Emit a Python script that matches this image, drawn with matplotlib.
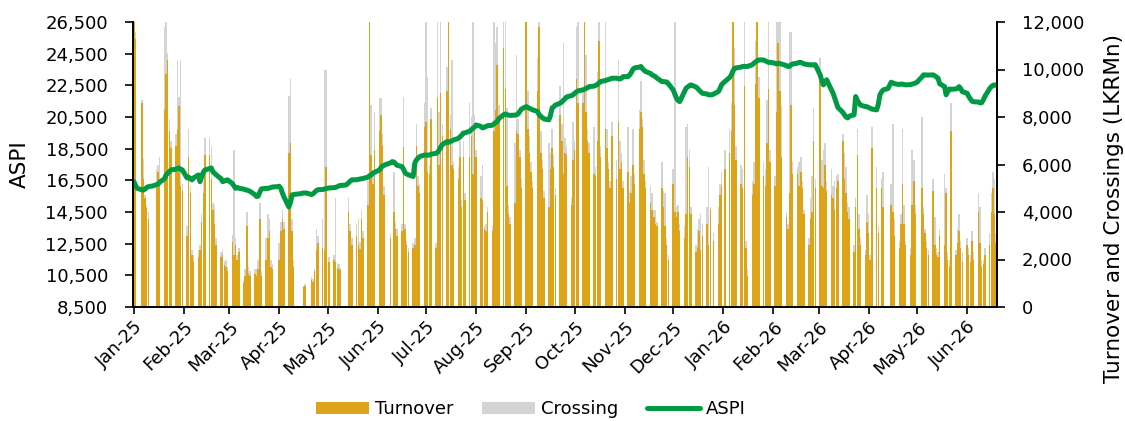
import pandas as pd
import matplotlib
matplotlib.use("Agg")
import matplotlib.pyplot as plt
import matplotlib.dates as mdates
from matplotlib.ticker import FuncFormatter
from matplotlib.patches import Patch
from matplotlib.lines import Line2D

plt.rcParams.update({"font.family": ["DejaVu Sans"], "font.size": 13})

# trading days (business days) from start to end
start_date = "2025-01-01"
end_date = "2026-06-19"

# daily turnover, LKR Mn (0 = market holiday)
turnover = [
    13000, 11300, 0, 8600, 5400, 4600, 4150, 3700, 0, 0, 5000, 5700, 5400, 8300, 9800, 10400, 7400, 6700, 6800, 7450, 8450, 5100, 4900,  # Jan-25
    3000, 6300, 4800, 2200, 1900, 2100, 2400, 3600, 4800, 6400, 6400, 5400, 4100, 3500, 2600, 2100, 2200, 1750, 1700, 1500,  # Feb-25
    2750, 2200, 2600, 2000, 2300, 1000, 1300, 3400, 1400, 1300, 1400, 1300, 1600, 3700, 1300, 2000, 2900, 3200, 1700, 1600, 0,  # Mar-25
    2000, 3200, 3700, 3300, 6500, 6900, 3200, 1700, 0, 0, 0, 850, 900, 0, 1150, 1050, 1500, 2400, 2700, 2500, 2400, 5900,  # Apr-25
    0, 1900, 2000, 1900, 1650, 1600, 1550, 0, 0, 4000, 3200, 2600, 3000, 2600, 2450, 3700, 2900, 4300, 12800, 6400, 5200, 6600,  # May-25
    7400, 8100, 6800, 4700, 0, 2900, 0, 4000, 3300, 3000, 3200, 6750, 3300, 2600, 2300, 2500, 2600, 6800, 5100, 4800, 7600,  # Jun-25
    7800, 5700, 5600, 7900, 2500, 8800, 6000, 9000, 7200, 9100, 12600, 7500, 6000, 5800, 5400, 6300, 4200, 6300, 4500, 6300, 7200, 5600, 7700,  # Jul-25
    6300, 4600, 4500, 3300, 3200, 4000, 3200, 7400, 8300, 10200, 7700, 10900, 9200, 5100, 3900, 3500, 4400, 7400, 7300, 6300, 5000,  # Aug-25
    12500, 7500, 6500, 5700, 5000, 9100, 11800, 6500, 5800, 4600, 4200, 5800, 6700, 5900, 4700, 8100, 7000, 5600, 6500, 6400, 4300, 6200,  # Sep-25
    6600, 9600, 8600, 8600, 12500, 8200, 7000, 6500, 5600, 5500, 7000, 11200, 6300, 7500, 6700, 5800, 5000, 7200, 5400, 7800, 5800, 6100, 5000,  # Oct-25
    5700, 4400, 4800, 6000, 5200, 7500, 8200, 7600, 5600, 5000, 4400, 4100, 3800, 3500, 3400, 5000, 4200, 3400, 2600, 2000,  # Nov-25
    5200, 4000, 3800, 4000, 3200, 2900, 3900, 6300, 5900, 3900, 2300, 2500, 3200, 2400, 3000, 3500, 2600, 4100, 0, 2800, 3500, 4700, 5100,  # Dec-25
    0, 5800, 6500, 7400, 12600, 8500, 6200, 5200, 5000, 9300, 2500, 1300, 4700, 5200, 9400, 12400, 8800, 5500, 5100, 6900, 9200, 6100,  # Jan-26
    5100, 8200, 11100, 9100, 6300, 3800, 3300, 4800, 8500, 5600, 5600, 5100, 5700, 5000, 3900, 2600, 3700, 4000, 7000, 5000,  # Feb-26
    9500, 5100, 5000, 6000, 4900, 4700, 4600, 4100, 5000, 5300, 7000, 5400, 4800, 4000, 3700, 2300, 4200, 6400, 3300, 2600, 2200, 3600,  # Mar-26
    3100, 2000, 6700, 5000, 3100, 0, 5000, 4200, 0, 0, 4300, 4000, 3000, 2500, 3500, 5200, 3500, 2600, 2200, 4300, 5300, 3900,  # Apr-26
    0, 5000, 3900, 3100, 2500, 2200, 4900, 2600, 2200, 2100, 3000, 2600, 4800, 2000, 1700, 7400, 2200, 2700, 3200, 2500, 1900,  # May-26
    2600, 2200, 1900, 2800, 2000, 4000, 2700, 1700, 1800, 2200, 2600, 4000, 5000, 3900, 2700,  # Jun-26
]

# daily crossings, LKR Mn
crossing = [
    0, 300, 0, 100, 850, 100, 150, 300, 0, 0, 800, 300, 900, 3500, 2600, 300, 500, 300, 500, 2900, 400, 5300, 300,
    400, 1200, 300, 200, 300, 300, 200, 300, 500, 700, 700, 1400, 300, 800, 300, 200, 200, 200, 300, 200,
    300, 4400, 300, 200, 200, 100, 300, 600, 300, 200, 200, 300, 400, 700, 200, 900, 1000, 500, 300, 200, 0,
    700, 400, 400, 300, 2400, 2700, 500, 300, 0, 0, 0, 50, 50, 0, 100, 150, 100, 900, 300, 1200, 7600, 4100,
    0, 200, 200, 2700, 200, 200, 100, 0, 0, 600, 300, 300, 500, 1100, 300, 400, 300, 1000, 200, 2100, 500, 1600,
    1400, 700, 500, 400, 0, 200, 0, 1700, 300, 300, 300, 2100, 200, 200, 200, 200, 300, 900, 400, 400, 1000,
    4500, 4000, 400, 500, 200, 3500, 2200, 3300, 500, 1000, 300, 600, 4400, 300, 500, 700, 300, 700, 300, 2300, 800, 6800, 400,
    300, 900, 1500, 100, 300, 200, 200, 5000, 2800, 1600, 800, 1500, 3000, 3300, 400, 300, 2500, 3200, 600, 300, 400,
    300, 1600, 700, 400, 300, 1400, 600, 900, 400, 300, 2700, 700, 800, 500, 300, 1200, 700, 5500, 600, 400, 300, 1600,
    400, 2200, 3600, 600, 0, 2400, 500, 400, 2000, 400, 2900, 1200, 500, 4600, 800, 300, 300, 600, 800, 2600, 1200, 400, 300,
    1900, 500, 700, 1500, 400, 800, 1300, 300, 600, 300, 700, 700, 300, 600, 200, 1100, 700, 1400, 300, 200,
    600, 8300, 400, 300, 300, 500, 3700, 1400, 700, 300, 300, 800, 500, 1500, 500, 700, 3300, 100, 0, 300, 700, 500, 600,
    0, 800, 1000, 1200, 200, 2400, 600, 800, 800, 2900, 300, 300, 600, 900, 1800, 300, 900, 600, 700, 1800, 3000, 500,
    400, 4000, 1000, 3000, 2200, 200, 200, 6800, 3100, 500, 300, 1000, 600, 300, 200, 300, 900, 1500, 1400, 400,
    1000, 1100, 1600, 900, 400, 1100, 500, 1200, 500, 300, 300, 1100, 1100, 400, 500, 300, 400, 1100, 600, 300, 200, 1100,
    800, 200, 900, 900, 300, 0, 400, 1500, 0, 0, 900, 3700, 700, 300, 400, 2300, 800, 200, 300, 2300, 900, 400,
    0, 3000, 300, 200, 300, 200, 500, 1200, 300, 200, 300, 3000, 200, 300, 300, 1200, 200, 600, 700, 300, 400,
    300, 300, 300, 400, 300, 800, 1500, 300, 200, 300, 500, 800, 700, 1500, 400,
]

# ASPI close
aspi = [
    16420, 16200, 16000, 15900, 15890, 15950, 16050, 16100, 16150, 16200, 16210, 16260, 16380, 16600, 16840, 16950, 17050, 17160, 17200, 17250, 17280, 17200, 17160,
    16650, 16700, 16600, 16530, 16650, 16840, 16420, 16700, 17000, 17150, 17250, 17280, 17030, 16950, 16850, 16600, 16420, 16450, 16500, 16530,
    16300, 16150, 16000, 16050, 16000, 15950, 15900, 15890, 15850, 15800, 15600, 15480, 15500, 15750, 15960, 16000, 15980, 16020, 16050, 16080, 16100,
    16130, 16000, 15700, 15450, 14820, 15100, 15580, 15600, 15620, 15650, 15680, 15700, 15700, 15700, 15600, 15650, 15750, 15850, 15910, 15920, 15950, 15980,
    16000, 16020, 16040, 16060, 16100, 16150, 16180, 16200, 16250, 16350, 16450, 16530, 16540, 16560, 16580, 16600, 16620, 16700, 16800, 16840, 16950, 17000,
    17150, 17290, 17410, 17450, 17500, 17600, 17680, 17660, 17550, 17450, 17370, 17200, 16970, 16900, 16850, 16740, 17580, 17790, 17900, 18000, 18100,
    18100, 18080, 18100, 18150, 18200, 18250, 18400, 18600, 18750, 18950, 18900, 18950, 19000, 19050, 19150, 19250, 19350, 19480, 19500, 19600, 19700, 19790, 19870,
    20000, 19900, 19810, 19850, 19900, 19950, 19980, 20060, 20150, 20190, 20400, 20640, 20690, 20650, 20620, 20600, 20620, 20640, 20700, 20850, 21000,
    21160, 21100, 21050, 21000, 20950, 20850, 20640, 20550, 20450, 20380, 20320, 20600, 21070, 21150, 21250, 21370, 21450, 21550, 21650, 21770, 21850, 21900,
    22000, 22080, 22150, 22210, 22250, 22300, 22350, 22420, 22450, 22500, 22550, 22650, 22740, 22800, 22840, 22870, 22900, 22950, 22950, 22920, 22900, 22950, 23050,
    23050, 23150, 23300, 23500, 23600, 23650, 23690, 23550, 23450, 23370, 23250, 23150, 23100, 23050, 22950, 22740, 22740, 22720, 22710, 22600,
    22210, 21950, 21690, 21550, 21470, 22100, 22320, 22400, 22480, 22530, 22400, 22320, 22200, 22100, 22000, 21950, 21900, 21900, 21900, 21950, 22110, 22300, 22550,
    22650, 22740, 23000, 23160, 23400, 23580, 23600, 23650, 23690, 23700, 23690, 23690, 23800, 23900, 23980, 24050, 24110, 24100, 24050, 24000, 23950, 23950,
    23900, 23850, 23900, 23870, 23850, 23750, 23690, 23700, 23800, 23850, 23900, 23950, 23950, 23900, 23850, 23800, 23800, 23780, 23800, 23800,
    23160, 22800, 22530, 22700, 22850, 22210, 22000, 21700, 21390, 21100, 20800, 20640, 20500, 20440, 20550, 20640, 21790, 21550, 21390, 21250, 21160, 21150,
    21100, 21050, 21000, 20950, 21300, 21900, 22080, 22210, 22300, 22500, 22700, 22650, 22600, 22550, 22580, 22580, 22550, 22530, 22550, 22580, 22600, 22650,
    22700, 23030, 23160, 23160, 23150, 23150, 23160, 23100, 23030, 22950, 22600, 22420, 21900, 22100, 22270, 22250, 22270, 22300, 22420, 22300, 22100,
    22000, 21800, 21640, 21500, 21460, 21450, 21390, 21400, 21580, 21800, 22300, 22420, 22500, 22530, 22500,
]

dates = pd.bdate_range(start_date, end_date)
n = min(len(dates), len(turnover), len(crossing), len(aspi))
dates = dates[:n]
turnover = turnover[:n]
crossing = crossing[:n]
aspi = aspi[:n]

gold = "#DDA41A"
grey = "#D4D4D4"
green = "#009A44"

fig = plt.figure(figsize=(11.25, 4.21), dpi=100)
ax = fig.add_axes([133 / 1125, 1 - 307 / 421, (997 - 133) / 1125, 285 / 421])
ax2 = ax.twinx()
ax.set_zorder(ax2.get_zorder() + 1)
ax.patch.set_visible(False)

ax2.bar(dates, turnover, width=0.92, color=gold, linewidth=0, antialiased=False)
ax2.bar(dates, crossing, bottom=turnover, width=0.92, color=grey, linewidth=0,
        antialiased=False)
ax.plot(dates, aspi, color=green, linewidth=3.6,
        solid_capstyle="round", solid_joinstyle="round")

ax.set_ylim(8500, 26500)
ax.set_yticks(range(8500, 26501, 2000))
ax2.set_ylim(0, 12000)
ax2.set_yticks(range(0, 12001, 2000))
comma = FuncFormatter(lambda v, pos: "{:,.0f}".format(v))
ax.yaxis.set_major_formatter(comma)
ax2.yaxis.set_major_formatter(comma)

ax.set_xlim(pd.Timestamp("2024-12-31 12:00"), pd.Timestamp("2026-06-19 12:00"))
ax.xaxis.set_major_locator(mdates.MonthLocator())
ax.xaxis.set_major_formatter(mdates.DateFormatter("%b-%y"))
for lbl in ax.get_xticklabels():
    lbl.set_rotation(45)
    lbl.set_ha("right")
    lbl.set_rotation_mode("anchor")

for a in (ax, ax2):
    a.spines["top"].set_visible(False)
    for s in ("left", "right", "bottom"):
        a.spines[s].set_linewidth(1.2)
    a.tick_params(axis="y", direction="out", length=6, width=1.2, pad=12, labelsize=13)
ax.tick_params(axis="x", direction="out", length=5, width=1.2, pad=3, labelsize=13)

ax.set_ylabel("ASPI", fontsize=15.5)
ax.yaxis.set_label_coords(-0.119, 0.5)
ax2.set_ylabel("Turnover and Crossings (LKRMn)", fontsize=15.5)
ax2.yaxis.set_label_coords(1.124, 0.347)

handles = [
    Patch(facecolor=gold, edgecolor="none"),
    Patch(facecolor=grey, edgecolor="none"),
    Line2D([0], [0], color=green, linewidth=3.6, solid_capstyle="round"),
]
fig.legend(handles, ["Turnover", "Crossing", "ASPI"], loc="center",
           bbox_to_anchor=(0.472, 0.028), ncol=3, frameon=False, fontsize=13,
           handlelength=2.9, handletextpad=0.35, columnspacing=1.6)

fig.savefig("out.png", dpi=100)
